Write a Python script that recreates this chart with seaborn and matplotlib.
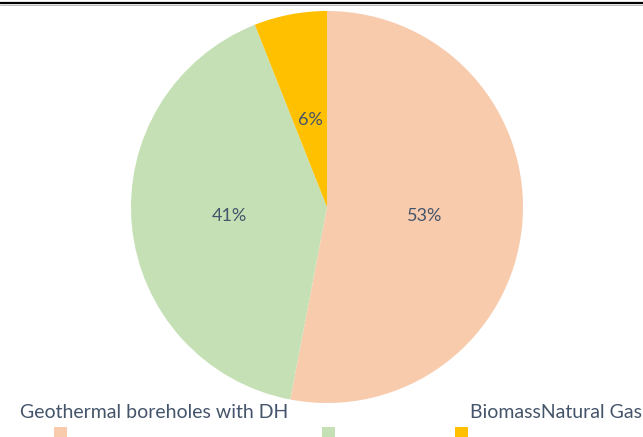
import matplotlib
matplotlib.use("Agg")
import matplotlib.pyplot as plt
from matplotlib.lines import Line2D
from matplotlib.patches import Rectangle
import seaborn as sns

categories = ["Geothermal boreholes with DH", "Biomass", "Natural Gas"]
shares = [53, 41, 6]
colors = ["#F8CBAD", "#C5E0B4", "#FFC000"]

sns.set_theme(style="white")
plt.rcParams["font.family"] = ["Lato", "DejaVu Sans"]
text_color = "#44546A"

W, H = 643, 437
fig = plt.figure(figsize=(W / 100, H / 100), dpi=100)

cx, cy, r = 327, 207, 196
ax = fig.add_axes([(cx - r) / W, (H - cy - r) / H, 2 * r / W, 2 * r / H])
wedges, _, pct = ax.pie(shares, colors=colors, startangle=90, counterclock=False,
                        autopct="%1.0f%%", pctdistance=0.5, radius=1,
                        wedgeprops=dict(linewidth=0),
                        textprops=dict(color=text_color, fontsize=13))
# the small slice's label sits a little further in
x, y = pct[2].get_position()
pct[2].set_position((x * 0.92, y * 0.9))
ax.set_xlim(-1, 1)
ax.set_ylim(-1, 1)
ax.set_aspect("equal")
ax.axis("off")

# rule across the top
fig.add_artist(Line2D([0, 1], [1 - 2.5 / H, 1 - 2.5 / H], color="black", linewidth=1.6))
fig.add_artist(Line2D([0, 1], [1 - 4.5 / H, 1 - 4.5 / H], color="#B0B0B0", linewidth=0.6))

# legend row: names above their swatches
fig.text(20 / W, 1 - 413 / H, categories[0], color=text_color, fontsize=14, va="center", ha="left")
fig.text(470 / W, 1 - 413 / H, categories[1] + categories[2], color=text_color, fontsize=14, va="center", ha="left")
for x0, c in zip([54, 322, 455], colors):
    fig.add_artist(Rectangle((x0 / W, 1 - 438 / H), 13 / W, 11 / H, transform=fig.transFigure,
                             facecolor=c, edgecolor="none"))

fig.savefig("out.png", dpi=100)
